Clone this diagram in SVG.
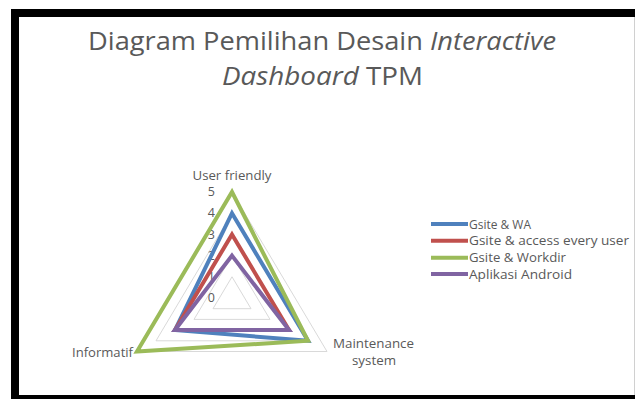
<svg xmlns="http://www.w3.org/2000/svg" width="635" height="399" viewBox="0 0 635 399">
<style>
.t{font-family:"Open Sans","Liberation Sans",sans-serif;fill:#595959}
.title{font-size:25px}
.lab{font-size:12px}
.leg{font-size:12.5px}
.tick{font-size:12.5px;text-anchor:end}
.grid{fill:none;stroke:#d9d9d9;stroke-width:1}
.s{fill:none;stroke-width:4;stroke-linejoin:miter}
.blue{stroke:#4F81BD}.red{stroke:#C0504D}.green{stroke:#9BBB59}.purple{stroke:#8064A2}
</style>
<rect x="0" y="0" width="635" height="399" fill="#ffffff"/>
<g id="frame">
<rect x="11" y="9" width="624" height="8" fill="#000"/>
<rect x="11" y="9" width="8" height="390" fill="#000"/>
<rect x="11" y="395" width="624" height="4" fill="#000"/>
<line x1="634.5" y1="17" x2="634.5" y2="395" stroke="#d0d0d0" stroke-width="1"/>
</g>
<g id="title">
<text class="t title" x="88" y="49.5" textLength="468" lengthAdjust="spacingAndGlyphs">Diagram Pemilihan Desain <tspan font-style="italic">Interactive</tspan></text>
<text class="t title" x="222" y="84.5" textLength="201" lengthAdjust="spacingAndGlyphs"><tspan font-style="italic">Dashboard</tspan> TPM</text>
</g>
<g id="grid">
<polygon class="grid" points="232,276.8 251,308.7 213,308.7"/>
<polygon class="grid" points="232,255.6 270,319.4 194,319.4"/>
<polygon class="grid" points="232,234.4 289,330.1 175,330.1"/>
<polygon class="grid" points="232,213.2 308,340.8 156,340.8"/>
<polygon class="grid" points="232,192 327,351.5 137,351.5"/>
</g>
<g id="ticks">
<text class="t tick" x="215" y="196">5</text>
<text class="t tick" x="215" y="217">4</text>
<text class="t tick" x="215" y="238.5">3</text>
<text class="t tick" x="215" y="259.5">2</text>
<text class="t tick" x="215" y="281">1</text>
<text class="t tick" x="215" y="302">0</text>
</g>
<g id="connectors">
<polygon id="s-gsite-wa" class="s blue" points="232,213.2 308,340.8 175,330.1"/>
<polygon id="s-gsite-access" class="s red" points="232,234.4 289,330.1 175,330.1"/>
<polygon id="s-gsite-workdir" class="s green" points="232,192 308,340.8 137,351.5"/>
<polygon id="s-aplikasi" class="s purple" points="232,255.6 289,330.1 175,330.1"/>
</g>
<g id="axis-user-friendly"><text class="t lab" x="192.5" y="179.5" textLength="79" lengthAdjust="spacingAndGlyphs">User friendly</text></g>
<g id="axis-informatif"><text class="t lab" x="72" y="356.5" textLength="61" lengthAdjust="spacingAndGlyphs">Informatif</text></g>
<g id="axis-maintenance">
<text class="t lab" x="333" y="348" textLength="81" lengthAdjust="spacingAndGlyphs">Maintenance</text>
<text class="t lab" x="352" y="365" textLength="44" lengthAdjust="spacingAndGlyphs">system</text>
</g>
<g id="legend">
<g id="legend-1"><line class="s blue" x1="431" y1="224" x2="468" y2="224" stroke-width="3"/><text class="t leg" x="469" y="228.5" textLength="62" lengthAdjust="spacingAndGlyphs">Gsite &amp; WA</text></g>
<g id="legend-2"><line class="s red" x1="431" y1="240.7" x2="468" y2="240.7" stroke-width="3"/><text class="t leg" x="469" y="245.2" textLength="160" lengthAdjust="spacingAndGlyphs">Gsite &amp; access every user</text></g>
<g id="legend-3"><line class="s green" x1="431" y1="257.7" x2="468" y2="257.7" stroke-width="3"/><text class="t leg" x="469" y="262.2" textLength="97" lengthAdjust="spacingAndGlyphs">Gsite &amp; Workdir</text></g>
<g id="legend-4"><line class="s purple" x1="431" y1="274" x2="468" y2="274" stroke-width="3"/><text class="t leg" x="469" y="278.5" textLength="103" lengthAdjust="spacingAndGlyphs">Aplikasi Android</text></g>
</g>
</svg>
